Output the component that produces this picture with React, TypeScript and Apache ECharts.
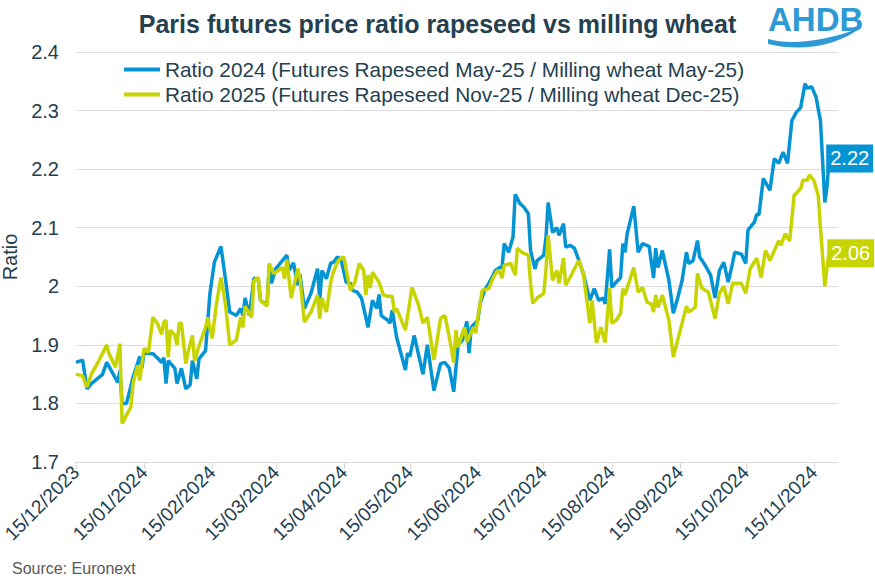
import React, { useEffect, useRef } from 'react';
import * as echarts from 'echarts';

const TITLE = 'Paris futures price ratio rapeseed vs milling wheat';
const SERIES_NAMES = [
  'Ratio 2024 (Futures Rapeseed May-25 / Milling wheat May-25)',
  'Ratio 2025 (Futures Rapeseed Nov-25 / Milling wheat Dec-25)',
];
const SERIES_COLORS = ['#0494d4', '#c8d400'];
const AXIS_START = '2023-12-15';
const AXIS_END = '2024-11-26';
const Y_MIN = 1.7;
const Y_MAX = 2.4;
const Y_STEP = 0.1;
const SOURCE = 'Source: Euronext';

const ratio2024: [string, number][] = [
  ['2023-12-15', 1.870], ['2023-12-18', 1.874], ['2023-12-20', 1.825], ['2023-12-22', 1.834],
  ['2023-12-27', 1.849], ['2023-12-29', 1.870], ['2024-01-03', 1.836], ['2024-01-04', 1.856],
  ['2024-01-05', 1.800], ['2024-01-07', 1.800], ['2024-01-10', 1.845], ['2024-01-12', 1.868],
  ['2024-01-13', 1.880], ['2024-01-14', 1.860], ['2024-01-15', 1.887], ['2024-01-18', 1.885],
  ['2024-01-19', 1.885], ['2024-01-21', 1.878], ['2024-01-23', 1.870], ['2024-01-24', 1.878],
  ['2024-01-25', 1.834], ['2024-01-26', 1.873], ['2024-01-29', 1.860], ['2024-01-30', 1.834],
  ['2024-02-01', 1.860], ['2024-02-03', 1.825], ['2024-02-05', 1.832], ['2024-02-06', 1.873],
  ['2024-02-08', 1.842], ['2024-02-09', 1.876], ['2024-02-12', 1.890], ['2024-02-13', 1.940],
  ['2024-02-14', 1.988], ['2024-02-16', 2.041], ['2024-02-19', 2.068], ['2024-02-21', 2.014],
  ['2024-02-23', 1.956], ['2024-02-26', 1.950], ['2024-02-28', 1.962], ['2024-02-29', 1.950],
  ['2024-03-01', 1.980], ['2024-03-03', 1.950], ['2024-03-05', 2.014], ['2024-03-07', 2.012],
  ['2024-03-08', 1.976], ['2024-03-11', 1.968], ['2024-03-12', 2.036], ['2024-03-13', 2.005],
  ['2024-03-15', 2.030], ['2024-03-18', 2.044], ['2024-03-20', 2.053], ['2024-03-21', 2.027],
  ['2024-03-23', 2.040], ['2024-03-25', 2.002], ['2024-03-26', 2.020], ['2024-03-28', 1.962],
  ['2024-03-31', 1.988], ['2024-04-03', 2.030], ['2024-04-04', 1.976], ['2024-04-05', 2.027],
  ['2024-04-07', 2.013], ['2024-04-09', 2.040], ['2024-04-10', 2.040], ['2024-04-12', 2.050],
  ['2024-04-13', 2.048], ['2024-04-14', 2.041], ['2024-04-16', 2.007], ['2024-04-18', 2.005],
  ['2024-04-19', 1.993], ['2024-04-21', 1.990], ['2024-04-23', 1.980], ['2024-04-26', 1.930],
  ['2024-04-28', 1.976], ['2024-04-30', 1.962], ['2024-05-01', 1.986], ['2024-05-02', 1.950],
  ['2024-05-05', 1.942], ['2024-05-06', 1.937], ['2024-05-07', 1.959], ['2024-05-09', 1.913],
  ['2024-05-13', 1.857], ['2024-05-14', 1.886], ['2024-05-15', 1.880], ['2024-05-17', 1.916],
  ['2024-05-21', 1.850], ['2024-05-23', 1.900], ['2024-05-26', 1.822], ['2024-05-29', 1.868],
  ['2024-05-31', 1.870], ['2024-06-02', 1.860], ['2024-06-04', 1.820], ['2024-06-06', 1.900],
  ['2024-06-08', 1.908], ['2024-06-10', 1.940], ['2024-06-11', 1.886], ['2024-06-12', 1.930],
  ['2024-06-15', 1.942], ['2024-06-16', 1.970], ['2024-06-18', 1.993], ['2024-06-20', 2.005],
  ['2024-06-23', 2.027], ['2024-06-25', 2.032], ['2024-06-26', 2.032], ['2024-06-27', 2.073],
  ['2024-06-29', 2.058], ['2024-07-01', 2.084], ['2024-07-02', 2.157], ['2024-07-04', 2.142],
  ['2024-07-06', 2.135], ['2024-07-08', 2.124], ['2024-07-09', 2.061], ['2024-07-11', 2.030],
  ['2024-07-12', 2.044], ['2024-07-15', 2.053], ['2024-07-16', 2.082], ['2024-07-17', 2.143],
  ['2024-07-19', 2.092], ['2024-07-21', 2.100], ['2024-07-22', 2.087], ['2024-07-24', 2.107],
  ['2024-07-25', 2.067], ['2024-07-27', 2.070], ['2024-07-29', 2.065], ['2024-07-31', 2.044],
  ['2024-08-02', 2.022], ['2024-08-05', 1.976], ['2024-08-07', 1.996], ['2024-08-09', 1.976],
  ['2024-08-11', 1.980], ['2024-08-12', 1.970], ['2024-08-14', 2.063], ['2024-08-15', 1.998],
  ['2024-08-17', 2.007], ['2024-08-19', 2.015], ['2024-08-20', 2.073], ['2024-08-21', 2.058],
  ['2024-08-22', 2.090], ['2024-08-25', 2.137], ['2024-08-27', 2.058], ['2024-08-29', 2.073],
  ['2024-09-01', 2.068], ['2024-09-03', 2.014], ['2024-09-04', 2.065], ['2024-09-05', 2.032],
  ['2024-09-07', 2.061], ['2024-09-10', 2.010], ['2024-09-12', 1.954], ['2024-09-14', 1.980],
  ['2024-09-16', 2.010], ['2024-09-18', 2.058], ['2024-09-19', 2.039], ['2024-09-21', 2.044],
  ['2024-09-23', 2.078], ['2024-09-24', 2.050], ['2024-09-26', 2.039], ['2024-09-29', 2.019],
  ['2024-10-01', 1.980], ['2024-10-03', 2.027], ['2024-10-05', 2.041], ['2024-10-07', 2.007],
  ['2024-10-09', 2.040], ['2024-10-10', 2.058], ['2024-10-13', 2.055], ['2024-10-15', 2.039],
  ['2024-10-16', 2.096], ['2024-10-19', 2.110], ['2024-10-20', 2.123], ['2024-10-21', 2.122],
  ['2024-10-23', 2.184], ['2024-10-26', 2.164], ['2024-10-28', 2.218], ['2024-10-30', 2.210],
  ['2024-11-01', 2.229], ['2024-11-03', 2.210], ['2024-11-05', 2.283], ['2024-11-07', 2.297],
  ['2024-11-09', 2.305], ['2024-11-11', 2.346], ['2024-11-12', 2.338], ['2024-11-14', 2.341],
  ['2024-11-16', 2.323], ['2024-11-18', 2.283], ['2024-11-20', 2.143], ['2024-11-21', 2.170],
  ['2024-11-22', 2.220],
];

const ratio2025: [string, number][] = [
  ['2023-12-15', 1.850], ['2023-12-18', 1.847], ['2023-12-20', 1.828], ['2023-12-22', 1.850],
  ['2023-12-25', 1.870], ['2023-12-27', 1.885], ['2023-12-29', 1.900], ['2023-12-30', 1.885],
  ['2024-01-02', 1.862], ['2024-01-04', 1.902], ['2024-01-05', 1.766], ['2024-01-09', 1.794],
  ['2024-01-10', 1.834], ['2024-01-12', 1.865], ['2024-01-13', 1.839], ['2024-01-15', 1.894],
  ['2024-01-17', 1.887], ['2024-01-19', 1.947], ['2024-01-21', 1.937], ['2024-01-23', 1.918],
  ['2024-01-24', 1.939], ['2024-01-25', 1.942], ['2024-01-26', 1.879], ['2024-01-27', 1.925],
  ['2024-01-29', 1.916], ['2024-01-30', 1.900], ['2024-01-31', 1.937], ['2024-02-01', 1.937],
  ['2024-02-03', 1.868], ['2024-02-04', 1.887], ['2024-02-06', 1.916], ['2024-02-07', 1.873],
  ['2024-02-09', 1.898], ['2024-02-12', 1.930], ['2024-02-13', 1.947], ['2024-02-15', 1.911],
  ['2024-02-17', 1.971], ['2024-02-19', 2.015], ['2024-02-21', 1.971], ['2024-02-23', 1.900],
  ['2024-02-26', 1.908], ['2024-02-28', 1.947], ['2024-02-29', 1.930], ['2024-03-01', 1.966],
  ['2024-03-04', 1.947], ['2024-03-05', 2.010], ['2024-03-07', 2.015], ['2024-03-08', 1.976],
  ['2024-03-11', 1.966], ['2024-03-12', 2.039], ['2024-03-14', 2.022], ['2024-03-15', 2.024],
  ['2024-03-18', 2.032], ['2024-03-19', 2.013], ['2024-03-20', 2.046], ['2024-03-22', 1.980],
  ['2024-03-24', 2.013], ['2024-03-25', 2.030], ['2024-03-26', 2.013], ['2024-03-28', 1.939],
  ['2024-03-31', 1.956], ['2024-04-03', 1.985], ['2024-04-04', 1.945], ['2024-04-05', 1.980],
  ['2024-04-07', 1.956], ['2024-04-09', 2.007], ['2024-04-10', 2.022], ['2024-04-12', 2.041],
  ['2024-04-13', 2.046], ['2024-04-15', 2.050], ['2024-04-17', 2.010], ['2024-04-18', 1.993],
  ['2024-04-20', 2.007], ['2024-04-22', 2.039], ['2024-04-24', 2.027], ['2024-04-25', 1.985],
  ['2024-04-26', 2.019], ['2024-04-27', 1.997], ['2024-04-28', 2.024], ['2024-05-01', 2.007],
  ['2024-05-03', 1.985], ['2024-05-05', 1.983], ['2024-05-07', 1.983], ['2024-05-08', 1.956],
  ['2024-05-09', 1.962], ['2024-05-13', 1.925], ['2024-05-16', 1.998], ['2024-05-19', 1.968],
  ['2024-05-21', 1.937], ['2024-05-23', 1.947], ['2024-05-26', 1.874], ['2024-05-29', 1.945],
  ['2024-05-31', 1.950], ['2024-06-02', 1.913], ['2024-06-04', 1.870], ['2024-06-05', 1.925],
  ['2024-06-06', 1.896], ['2024-06-08', 1.920], ['2024-06-09', 1.930], ['2024-06-10', 1.905],
  ['2024-06-13', 1.930], ['2024-06-14', 1.920], ['2024-06-15', 1.947], ['2024-06-17', 1.993],
  ['2024-06-20', 1.996], ['2024-06-22', 2.015], ['2024-06-24', 2.027], ['2024-06-25', 2.024],
  ['2024-06-26', 2.014], ['2024-06-27', 2.036], ['2024-06-30', 2.039], ['2024-07-02', 2.019],
  ['2024-07-03', 2.065], ['2024-07-05', 2.058], ['2024-07-08', 2.053], ['2024-07-09', 2.005],
  ['2024-07-10', 1.971], ['2024-07-12', 1.980], ['2024-07-15', 1.988], ['2024-07-16', 2.027],
  ['2024-07-17', 2.087], ['2024-07-19', 2.010], ['2024-07-21', 2.027], ['2024-07-22', 2.005],
  ['2024-07-24', 2.048], ['2024-07-25', 2.002], ['2024-07-27', 2.015], ['2024-07-29', 2.030],
  ['2024-07-31', 2.044], ['2024-08-02', 2.022], ['2024-08-05', 1.937], ['2024-08-06', 1.976],
  ['2024-08-08', 1.903], ['2024-08-10', 1.930], ['2024-08-12', 1.904], ['2024-08-14', 1.997],
  ['2024-08-15', 1.937], ['2024-08-17', 1.942], ['2024-08-19', 1.954], ['2024-08-20', 1.996],
  ['2024-08-21', 1.985], ['2024-08-25', 2.032], ['2024-08-27', 1.990], ['2024-08-29', 1.998],
  ['2024-08-31', 1.973], ['2024-09-02', 1.970], ['2024-09-03', 1.956], ['2024-09-04', 1.985],
  ['2024-09-05', 1.964], ['2024-09-07', 1.985], ['2024-09-10', 1.942], ['2024-09-12', 1.879],
  ['2024-09-14', 1.908], ['2024-09-16', 1.937], ['2024-09-18', 1.966], ['2024-09-19', 1.956],
  ['2024-09-22', 1.964], ['2024-09-23', 2.022], ['2024-09-25', 1.997], ['2024-09-28', 1.990],
  ['2024-10-01', 1.945], ['2024-10-03', 1.988], ['2024-10-05', 2.000], ['2024-10-07', 1.970],
  ['2024-10-09', 2.005], ['2024-10-13', 2.005], ['2024-10-15', 1.988], ['2024-10-17', 2.030],
  ['2024-10-20', 2.048], ['2024-10-22', 2.015], ['2024-10-24', 2.061], ['2024-10-26', 2.044],
  ['2024-10-30', 2.078], ['2024-10-31', 2.070], ['2024-11-02', 2.090], ['2024-11-04', 2.077],
  ['2024-11-06', 2.155], ['2024-11-09', 2.167], ['2024-11-10', 2.181], ['2024-11-12', 2.181],
  ['2024-11-13', 2.190], ['2024-11-15', 2.181], ['2024-11-17', 2.155], ['2024-11-18', 2.100],
  ['2024-11-20', 2.000], ['2024-11-21', 2.032], ['2024-11-22', 2.060],
];

const TEXT_COLOR = '#25404f';
const FONT = "'Liberation Sans', Arial, sans-serif";

function fmt(iso: string): string {
  const [y, m, d] = iso.split('-');
  return `${d}/${m}/${y}`;
}

function buildCategories(start: string, end: string): string[] {
  const out: string[] = [];
  const s = Date.parse(start + 'T00:00:00Z');
  const e = Date.parse(end + 'T00:00:00Z');
  for (let t = s; t <= e; t += 86400000) {
    out.push(fmt(new Date(t).toISOString().slice(0, 10)));
  }
  return out;
}

let shapeRegistered = false;
function registerLogo() {
  if (shapeRegistered) return;
  const Wave = (echarts.graphic as any).extendPath(
    'M0,11 C22,17 55,14 92,0 C72,16 36,25 0,16 Z',
    {}
  );
  echarts.graphic.registerShape('ahdbWave', Wave);
  shapeRegistered = true;
}

export default function App() {
  const ref = useRef<HTMLDivElement>(null);

  useEffect(() => {
    if (!ref.current) return;
    registerLogo();
    const chart = echarts.init(ref.current, undefined, { renderer: 'svg' });
    const categories = buildCategories(AXIS_START, AXIS_END);
    const isTickDay = (_i: number, v: string) => v.startsWith('15/');
    const seriesData = [ratio2024, ratio2025];

    chart.setOption({
      animation: false,
      backgroundColor: '#ffffff',
      textStyle: { fontFamily: FONT },
      title: {
        text: TITLE,
        left: 'center',
        top: 6,
        textStyle: { fontFamily: FONT, fontSize: 25, fontWeight: 'bold', color: TEXT_COLOR },
      },
      legend: {
        orient: 'vertical',
        left: 124,
        top: 59,
        padding: 0,
        itemGap: 4,
        itemWidth: 36,
        itemHeight: 4,
        icon: 'rect',
        selectedMode: false,
        textStyle: { fontFamily: FONT, fontSize: 20.8, color: TEXT_COLOR },
        data: SERIES_NAMES,
      },
      grid: {
        left: 76,
        right: 37,
        top: 52,
        bottom: 117,
        containLabel: false,
        outerBoundsMode: 'none',
      },
      xAxis: {
        type: 'category',
        data: categories,
        boundaryGap: false,
        axisLine: { show: true, lineStyle: { color: '#d9d9d9', width: 1 } },
        axisTick: { show: true, interval: isTickDay, length: 7, lineStyle: { color: '#d9d9d9' } },
        axisLabel: {
          interval: isTickDay,
          rotate: 45,
          margin: 7,
          fontFamily: FONT,
          fontSize: 19.2,
          color: TEXT_COLOR,
        },
        splitLine: { show: false },
      },
      yAxis: {
        type: 'value',
        min: Y_MIN,
        max: Y_MAX,
        interval: Y_STEP,
        name: 'Ratio',
        nameLocation: 'middle',
        nameRotate: 90,
        nameGap: 53,
        nameTextStyle: { fontFamily: FONT, fontSize: 20, color: TEXT_COLOR },
        axisLine: { show: false },
        axisTick: { show: false },
        axisLabel: {
          margin: 17,
          fontFamily: FONT,
          fontSize: 20,
          color: TEXT_COLOR,
          formatter: (v: number) => String(Math.round(v * 10) / 10),
        },
        splitLine: { show: true, lineStyle: { color: '#dcdcdc', width: 1 } },
      },
      series: seriesData.map((arr, i) => ({
        name: SERIES_NAMES[i],
        type: 'line',
        data: arr.map(([d, v]) => [fmt(d), v]),
        showSymbol: false,
        symbol: 'none',
        lineStyle: { color: SERIES_COLORS[i], width: 3.5 },
        itemStyle: { color: SERIES_COLORS[i] },
        z: i === 0 ? 2 : 3,
        endLabel: {
          show: true,
          formatter: (p: any) => Number(p.value[1]).toFixed(2),
          backgroundColor: SERIES_COLORS[i],
          color: '#ffffff',
          fontFamily: FONT,
          fontSize: 20,
          padding: [4, 4, 4, 4],
          distance: 0,
          offset: i === 0 ? [-3, 1] : [-2, 2],
        },
      })),
      graphic: [
        {
          type: 'text',
          left: 768,
          top: 3,
          style: {
            text: 'AHDB',
            fontFamily: FONT,
            fontSize: 33,
            fontWeight: 'bold',
            fill: '#2d9ad5',
          },
        },
        {
          type: 'ahdbWave',
          x: 768,
          y: 28,
          style: { fill: '#2d9ad5' },
        },
        {
          type: 'text',
          left: 12,
          bottom: 3,
          style: {
            text: SOURCE,
            fontFamily: FONT,
            fontSize: 16,
            fill: '#595959',
          },
        },
      ],
    });

    return () => chart.dispose();
  }, []);

  return (
    <div
      ref={ref}
      style={{ position: 'fixed', left: 0, top: 0, width: 875, height: 579 }}
    />
  );
}
